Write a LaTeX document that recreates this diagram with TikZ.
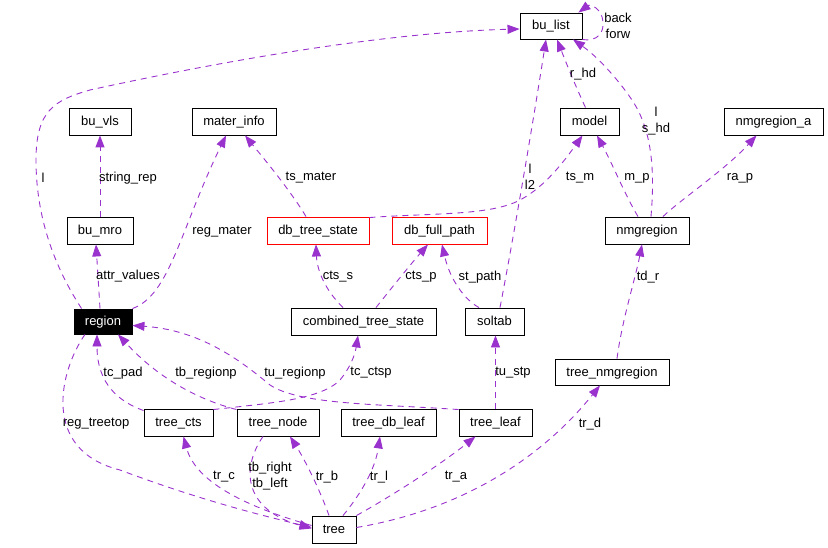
\documentclass[tikz,border=0pt]{standalone}
\usepackage{fontspec}
\setmainfont{Liberation Sans}
\usetikzlibrary{arrows.meta}
\definecolor{edgec}{HTML}{9A32CD}
\begin{document}
\begin{tikzpicture}[x=1pt,y=-1pt,
  box/.style={draw=black,line width=0.9pt,rectangle,inner sep=0pt,minimum height=27pt,text height=9pt,text depth=1pt,font=\fontsize{13}{15}\selectfont},
  redbox/.style={box,draw=red},
  lbl/.style={inner sep=0pt,font=\fontsize{13}{16}\selectfont,align=center},
  use/.style={draw=edgec,line width=0.9pt,dash pattern=on 6pt off 5pt,-{Triangle[length=12pt,width=9pt]}}]
\useasboundingbox (0,0) rectangle (828,548);

% nodes
\node[box,minimum width=62pt,minimum height=26pt] (bulist) at (551,26) {bu\_list};
\node[box,minimum width=62pt] (buvls) at (100,121.5) {bu\_vls};
\node[box,minimum width=84pt] (materinfo) at (234,121.5) {mater\_info};
\node[box,minimum width=59pt] (model) at (589.5,121.5) {model};
\node[box,minimum width=99pt] (nmgregiona) at (773.5,121.5) {nmgregion\_a};
\node[box,minimum width=66pt] (bumro) at (100,230.5) {bu\_mro};
\node[redbox,minimum width=102pt] (dbtree) at (318,230.5) {db\_tree\_state};
\node[redbox,minimum width=95pt] (dbfull) at (439.5,230.5) {db\_full\_path};
\node[box,minimum width=84pt] (nmgregion) at (647,230.5) {nmgregion};
\node[box,fill=black,text=white,minimum width=58pt,minimum height=25pt] (region) at (103,321.5) {region};
\node[box,minimum width=145pt] (cts) at (363.5,321.5) {combined\_tree\_state};
\node[box,minimum width=59pt] (soltab) at (494.5,321.5) {soltab};
\node[box,minimum width=114pt,minimum height=26pt] (treenmg) at (612,372) {tree\_nmgregion};
\node[box,minimum width=69pt] (treects) at (178.5,422.5) {tree\_cts};
\node[box,minimum width=82pt] (treenode) at (278,422.5) {tree\_node};
\node[box,minimum width=95pt] (treedbleaf) at (388.5,422.5) {tree\_db\_leaf};
\node[box,minimum width=73pt] (treeleaf) at (495.5,422.5) {tree\_leaf};
\node[box,minimum width=44pt] (tree) at (334,529.5) {tree};

% edges
\draw[use] ([xshift=8pt]region.north west) .. controls (50,260) and (36,210) .. (36,160)
  .. controls (36,110) and (55,100) .. (90,90) .. controls (250,55) and (400,32) .. ([yshift=-3pt]bulist.west);
\draw[use] (bulist.south east) .. controls (598,42) and (604,32) .. (603,22)
  .. controls (602,8) and (590,4) .. ([xshift=-4pt]bulist.north east);
\draw[use] ([xshift=-4pt]model.north) .. controls (575,85) and (565,60) .. ([xshift=6pt]bulist.south);
\draw[use] ([xshift=4pt]nmgregion.north) .. controls (655,170) and (652,130) .. (632,100)
  .. controls (615,75) and (595,55) .. ([xshift=22pt]bulist.south);
\draw[use] ([xshift=-9pt]nmgregion.north) .. controls (625,195) and (613,165) .. ([xshift=7.5pt]model.south);
\draw[use] ([xshift=16pt]nmgregion.north) .. controls (680,200) and (725,170) .. ([xshift=-17pt]nmgregiona.south);
\draw[use] ([yshift=-1pt]dbtree.north east) .. controls (430,213) and (490,216) .. (520,200)
  .. controls (545,187) and (565,160) .. ([xshift=-7pt]model.south);
\draw[use] ([xshift=-12pt]dbtree.north) .. controls (290,190) and (265,160) .. ([xshift=11pt]materinfo.south);
\draw[use] (region.north east) .. controls (170,295) and (180,230) .. ([xshift=-8pt]materinfo.south);
\draw[use] ([xshift=-3pt]region.north) -- ([xshift=-4pt]bumro.south);
\draw[use] (bumro.north) -- (buvls.south);
\draw[use] ([xshift=-20.5pt]cts.north) .. controls (325,290) and (317,270) .. ([xshift=-2pt]dbtree.south);
\draw[use] ([xshift=12.5pt]cts.north) .. controls (390,290) and (410,265) .. ([xshift=-11.5pt]dbfull.south);
\draw[use] ([xshift=-15.5pt]soltab.north) .. controls (465,300) and (450,280) .. ([xshift=2.5pt]dbfull.south);
\draw[use] ([xshift=5.5pt]soltab.north) .. controls (515,230) and (535,110) .. ([xshift=-5pt]bulist.south);
\draw[use] ([xshift=5pt]treenmg.north) .. controls (622,320) and (635,280) .. ([xshift=-5pt]nmgregion.south);
\draw[use] ([yshift=-2pt]treects.north west) .. controls (120,402) and (97,385) .. ([xshift=-6pt]region.south);
\draw[use] ([yshift=-1pt]treenode.north west) .. controls (200,400) and (160,380) .. ([xshift=15pt]region.south);
\draw[use] ([yshift=-1pt]treeleaf.north west) .. controls (380,404) and (300,405) .. (270,385)
  .. controls (240,360) and (200,330) .. ([yshift=-4pt]region.east);
\draw[use] ([yshift=-1pt]treects.north east) .. controls (270,403) and (320,400) .. (340,380)
  .. controls (350,368) and (355,355) .. ([xshift=-5.5pt]cts.south);
\draw[use] (treeleaf.north) -- (treeleaf.north |- soltab.south);
\draw[use] ([xshift=-18pt]region.south) .. controls (60,370) and (40,450) .. (120,470)
  .. controls (200,500) and (260,515) .. ([yshift=2pt]tree.west);
\draw[use] ([yshift=4pt]tree.west) .. controls (240,505) and (195,480) .. ([xshift=5pt]treects.south);
\draw[use] ([xshift=-15pt]treenode.south) .. controls (240,470) and (245,510) .. ([yshift=1pt]tree.west);
\draw[use] ([xshift=-5pt]tree.north) .. controls (320,490) and (305,460) .. ([xshift=12pt]treenode.south);
\draw[use] ([xshift=9pt]tree.north) .. controls (360,495) and (375,470) .. ([xshift=-8.5pt]treedbleaf.south);
\draw[use] (tree.north east) .. controls (390,497) and (440,465) .. ([xshift=-20pt]treeleaf.south);
\draw[use] ([yshift=2pt]tree.east) .. controls (460,510) and (540,460) .. ([xshift=-12pt]treenmg.south);

% labels
\node[lbl] (Lbf) at (618,26) {back\\forw};
\node[lbl] (Lrhd) at (583,74) {r\_hd};
\node[lbl] (Lshd) at (656,121) {l\\s\_hd};
\node[lbl] (Ll) at (43,178) {l};
\node[lbl] (Lsr) at (128,178) {string\_rep};
\node[lbl] (Ltsmat) at (311,178) {ts\_mater};
\node[lbl] (Ll2) at (530,177) {l\\l2};
\node[lbl] (Ltsm) at (580,178) {ts\_m};
\node[lbl] (Lmp) at (637,178) {m\_p};
\node[lbl] (Lrap) at (740,178) {ra\_p};
\node[lbl] (Lregm) at (222,232) {reg\_mater};
\node[lbl] (Lattr) at (128,276) {attr\_values};
\node[lbl] (Lctss) at (338,277) {cts\_s};
\node[lbl] (Lctsp) at (421,277) {cts\_p};
\node[lbl] (Lstp) at (480,277) {st\_path};
\node[lbl] (Ltdr) at (648,277) {td\_r};
\node[lbl] (Ltcpad) at (123,373) {tc\_pad};
\node[lbl] (Ltbr) at (206,373) {tb\_regionp};
\node[lbl] (Ltur) at (295,373) {tu\_regionp};
\node[lbl] (Ltcc) at (371,373) {tc\_ctsp};
\node[lbl] (Ltustp) at (513,373) {tu\_stp};
\node[lbl] (Lrtt) at (96,424) {reg\_treetop};
\node[lbl] (Ltrd) at (590,424) {tr\_d};
\node[lbl] (Ltbrl) at (270,476) {tb\_right\\tb\_left};
\node[lbl] (Ltrc) at (224,477) {tr\_c};
\node[lbl] (Ltrb) at (327,477) {tr\_b};
\node[lbl] (Ltrl) at (379,477) {tr\_l};
\node[lbl] (Ltra) at (456,477) {tr\_a};
\end{tikzpicture}
\end{document}
